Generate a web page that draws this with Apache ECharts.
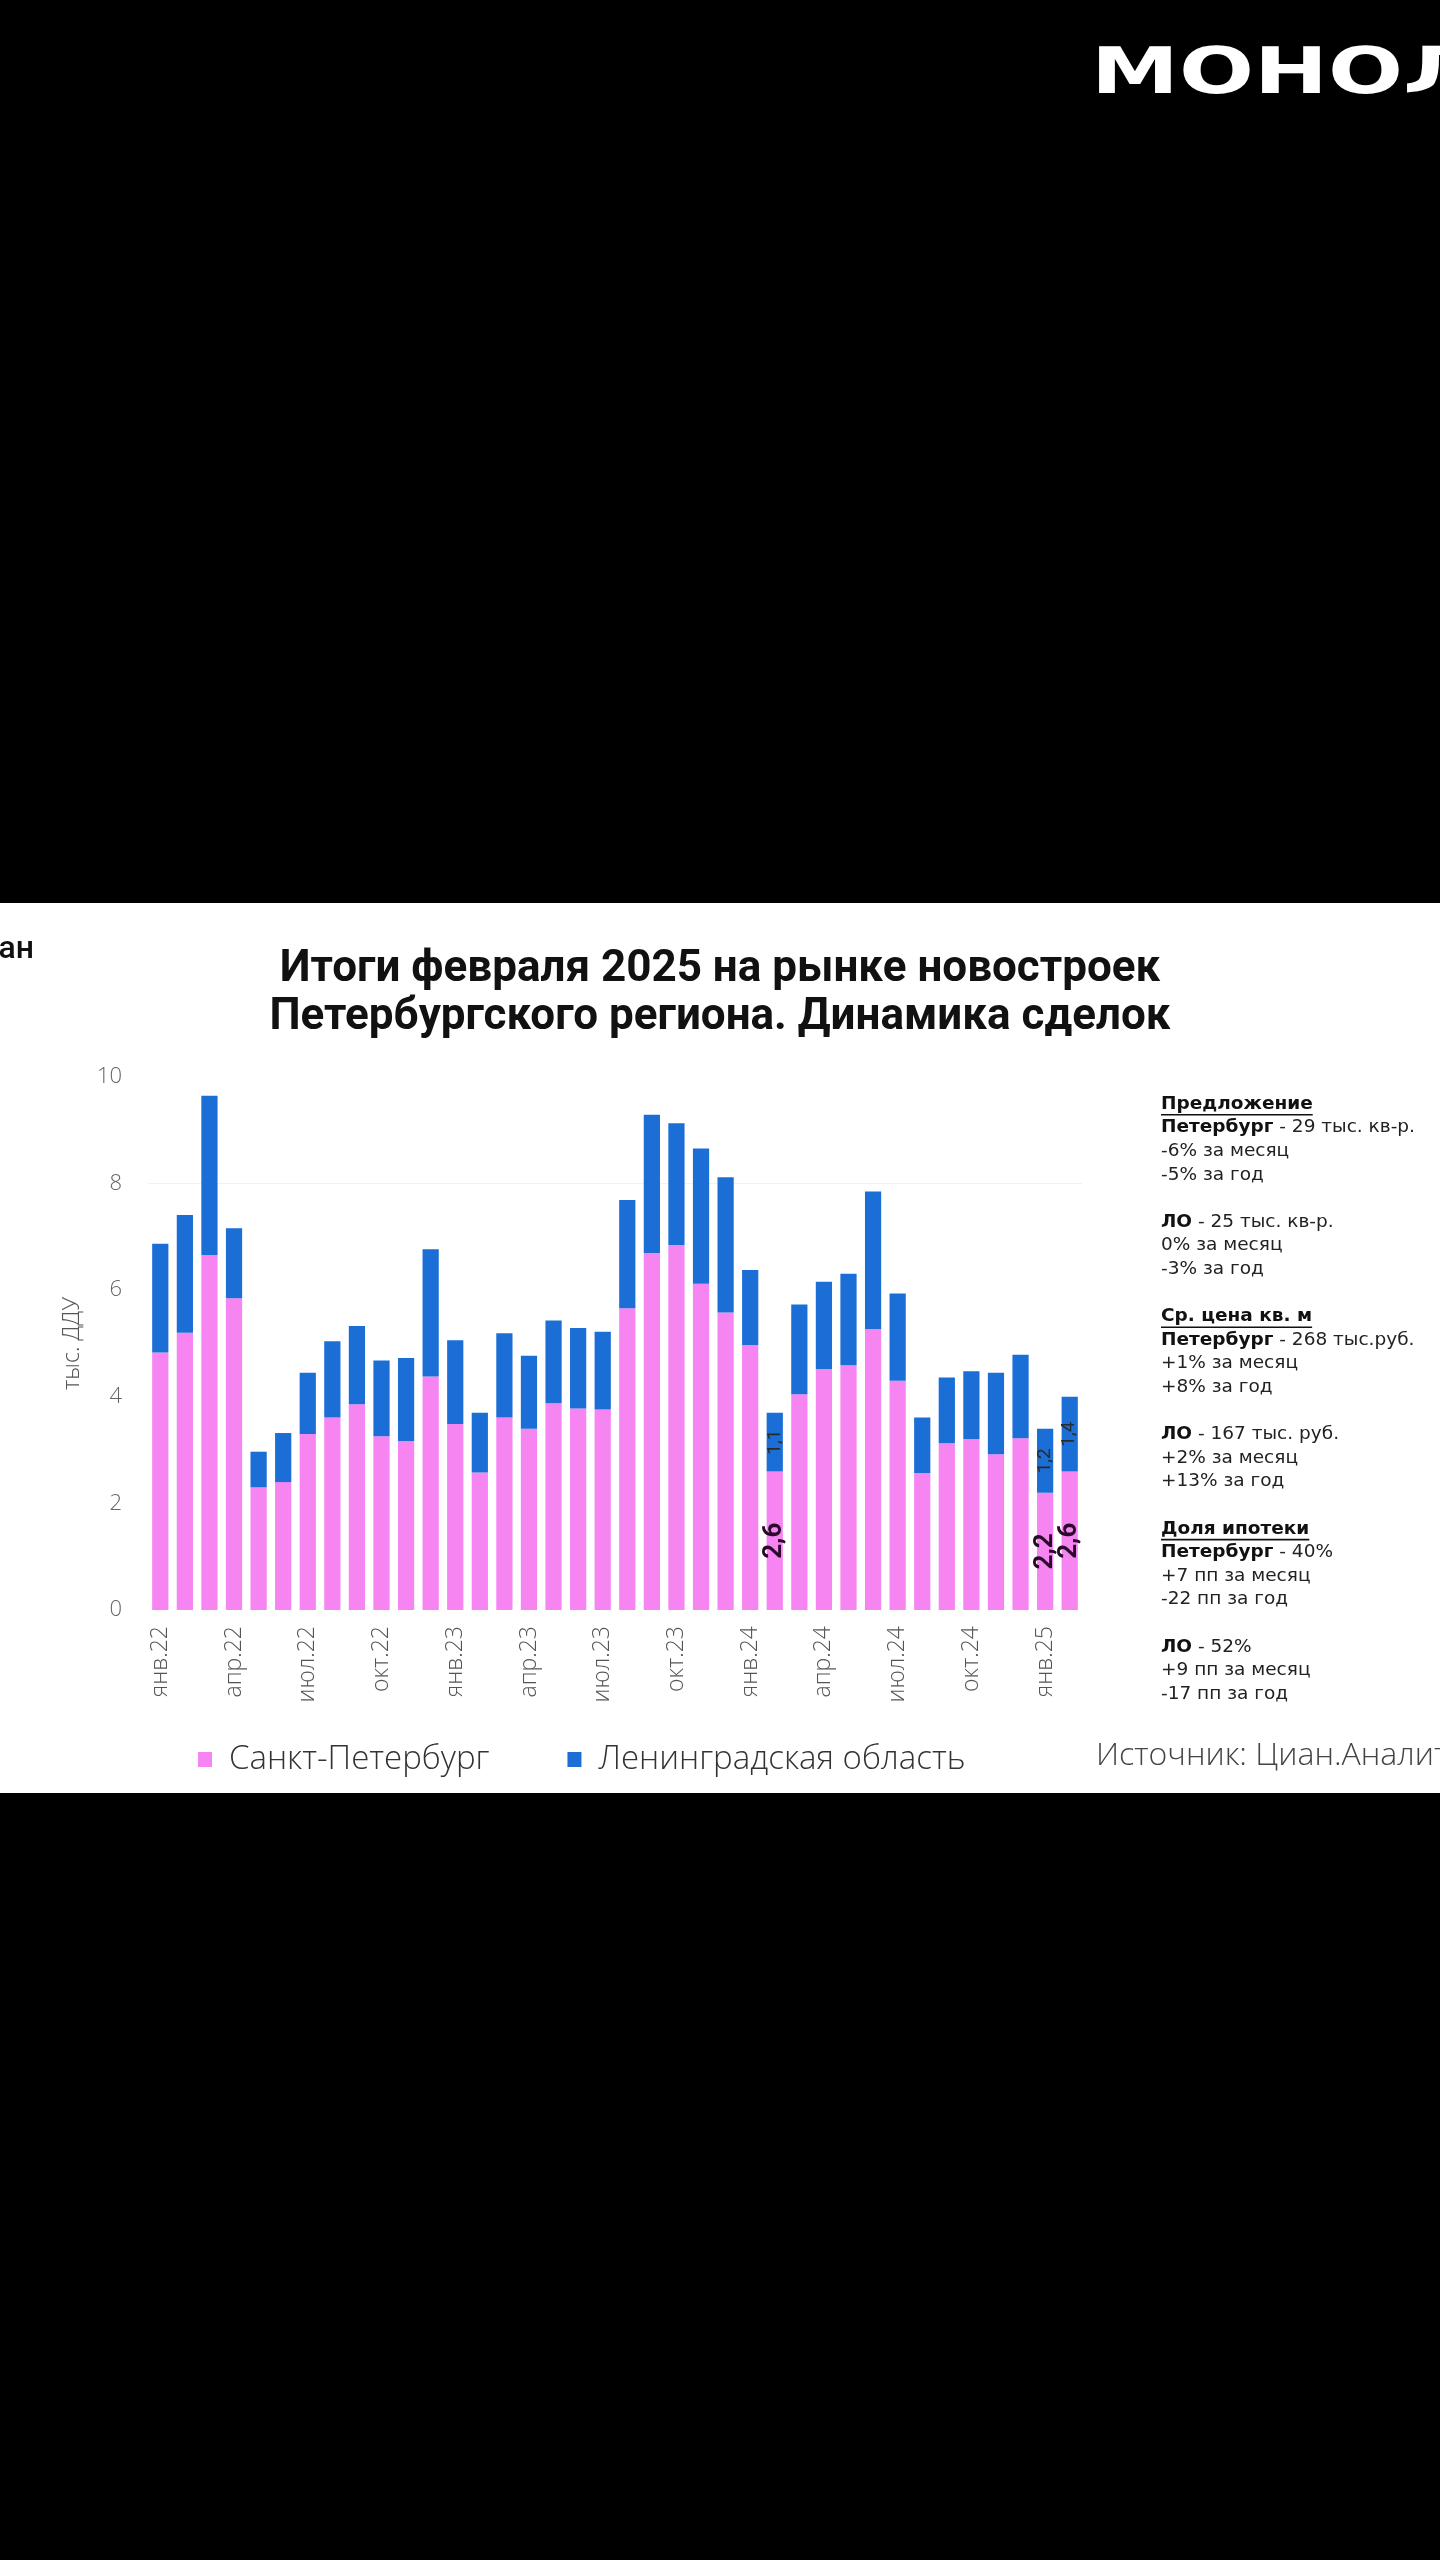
<!DOCTYPE html>
<html>
<head>
<meta charset="utf-8">
<script src="https://cdn.jsdelivr.net/npm/echarts@6/dist/echarts.min.js"></script>
<style>
    html, body { margin: 0; padding: 0; background: #000; }
    #chart { width: 1440px; height: 2560px; }
</style>
</head>
<body>
<div id="chart"></div>
<script>
// месяцы янв.22 .. фев.25
var months = [
    'янв.22','фев.22','мар.22','апр.22','май.22','июн.22','июл.22','авг.22','сен.22','окт.22','ноя.22','дек.22',
    'янв.23','фев.23','мар.23','апр.23','май.23','июн.23','июл.23','авг.23','сен.23','окт.23','ноя.23','дек.23',
    'янв.24','фев.24','мар.24','апр.24','май.24','июн.24','июл.24','авг.24','сен.24','окт.24','ноя.24','дек.24',
    'янв.25','фев.25'
];
// тыс. ДДУ, Санкт-Петербург
var spbDeals = [
    4.83, 5.20, 6.66, 5.85, 2.30, 2.40, 3.30, 3.61, 3.86, 3.26, 3.17, 4.38,
    3.49, 2.58, 3.61, 3.40, 3.88, 3.78, 3.76, 5.66, 6.70, 6.85, 6.12, 5.58,
    4.97, 2.6, 4.05, 4.52, 4.59, 5.27, 4.30, 2.57, 3.13, 3.21, 2.92, 3.22,
    2.2, 2.6
];
// тыс. ДДУ, Ленинградская область
var loDeals = [
    2.04, 2.21, 2.99, 1.31, 0.67, 0.92, 1.15, 1.43, 1.47, 1.42, 1.56, 2.39,
    1.57, 1.12, 1.58, 1.37, 1.55, 1.51, 1.46, 2.03, 2.59, 2.28, 2.54, 2.54,
    1.41, 1.1, 1.68, 1.64, 1.72, 2.58, 1.64, 1.04, 1.23, 1.27, 1.53, 1.57,
    1.2, 1.4
];
// столбцы с подписями значений
var labeledIdx = [25, 36, 37];

var seriesNames = ['Санкт-Петербург', 'Ленинградская область'];
var titleLines = ['Итоги февраля 2025 на рынке новостроек', 'Петербургского региона. Динамика сделок'];
var yTicks = [0, 2, 4, 6, 8, 10];
var sourceText = 'Источник: Циан.Аналитика';

// h - заголовок, b - жирное + обычное, n - обычное, [] - пустая строка
var noteLines = [
    ['h', 'Предложение'],
    ['b', 'Петербург', ' - 29 тыс. кв-р.'],
    ['n', '-6% за месяц'],
    ['n', '-5% за год'],
    [],
    ['b', 'ЛО', ' - 25 тыс. кв-р.'],
    ['n', '0% за месяц'],
    ['n', '-3% за год'],
    [],
    ['h', 'Ср. цена кв. м'],
    ['b', 'Петербург', ' - 268 тыс.руб.'],
    ['n', '+1% за месяц'],
    ['n', '+8% за год'],
    [],
    ['b', 'ЛО', ' - 167 тыс. руб.'],
    ['n', '+2% за месяц'],
    ['n', '+13% за год'],
    [],
    ['h', 'Доля ипотеки'],
    ['b', 'Петербург', ' - 40%'],
    ['n', '+7 пп за месяц'],
    ['n', '-22 пп за год'],
    [],
    ['b', 'ЛО', ' - 52%'],
    ['n', '+9 пп за месяц'],
    ['n', '-17 пп за год']
];

var PINK = '#f684f1';
var BLUE = '#1a6ed6';
var noteFont = 'DejaVu Sans';
var noteSize = 18.5;
var noteX = 1161, noteTop = 1104, noteLineH = 23.6;
var lightFont = 'Open Sans';

function measure(text, font) {
    var ctx = document.createElement('canvas').getContext('2d');
    ctx.font = font;
    return ctx.measureText(text).width;
}

function withLabels(arr) {
    return arr.map(function (v, i) {
        if (labeledIdx.indexOf(i) >= 0) return { value: v, label: { show: true } };
        return v;
    });
}

function commaFmt(p) {
    return String(p.value).replace('.', ',');
}

var graphics = [
    { type: 'rect', z: -100, silent: true, shape: { x: 0, y: 903, width: 1440, height: 890 }, style: { fill: '#fff' } },
    { type: 'text', x: 1091, y: 76, scaleX: 1.38, style: { text: 'МОНОЛИТ', fill: '#fff', font: 'bold 64px "DejaVu Sans"', textVerticalAlign: 'middle' } },
    { type: 'text', x: 34, y: 950, style: { text: 'Циан', fill: '#111', font: '500 32px Roboto', textAlign: 'right', textVerticalAlign: 'middle' } },
    { type: 'text', x: 1096, y: 1756, style: { text: sourceText, fill: '#444', font: '300 32px "' + lightFont + '"', textVerticalAlign: 'middle' } }
];

noteLines.forEach(function (ln, k) {
    if (!ln.length) return;
    var y = noteTop + k * noteLineH;
    var kind = ln[0];
    if (kind === 'h') {
        var bf = 'bold ' + noteSize + 'px "' + noteFont + '"';
        graphics.push({ type: 'text', x: noteX, y: y, style: { text: ln[1], fill: '#111', font: bf, textVerticalAlign: 'middle' } });
        graphics.push({ type: 'rect', silent: true, shape: { x: noteX, y: y + 10, width: measure(ln[1], bf), height: 1.6 }, style: { fill: '#111' } });
    } else if (kind === 'b') {
        graphics.push({ type: 'text', x: noteX, y: y, style: {
            text: '{b|' + ln[1] + '}{n|' + ln[2] + '}',
            textVerticalAlign: 'middle',
            rich: {
                b: { fontFamily: noteFont, fontSize: noteSize, fontWeight: 'bold', fill: '#111' },
                n: { fontFamily: noteFont, fontSize: noteSize, fill: '#222' }
            }
        } });
    } else {
        graphics.push({ type: 'text', x: noteX, y: y, style: { text: ln[1], fill: '#222', font: noteSize + 'px "' + noteFont + '"', textVerticalAlign: 'middle' } });
    }
});

var chart = echarts.init(document.getElementById('chart'));
var option = {
    backgroundColor: '#000',
    animation: false,
    title: {
        text: titleLines.join('\n'),
        left: 'center',
        top: 941,
        textStyle: { fontFamily: 'Roboto', fontSize: 44, fontWeight: 'bold', color: '#111', lineHeight: 48 }
    },
    grid: { left: 148, right: 358, top: 1077, height: 533 },
    legend: {
        data: seriesNames,
        left: 193,
        top: 1738,
        icon: 'rect',
        itemWidth: 14,
        itemHeight: 15,
        itemGap: 78,
        textStyle: { fontFamily: lightFont, fontWeight: 300, fontSize: 33, color: '#333', padding: [0, 0, 0, 12] }
    },
    xAxis: {
        type: 'category',
        data: months,
        axisLine: { show: false },
        axisTick: { show: false },
        axisLabel: { interval: 2, rotate: 90, margin: 16, fontFamily: lightFont, fontWeight: 300, fontSize: 23, color: '#555' }
    },
    yAxis: {
        type: 'value',
        min: yTicks[0],
        max: yTicks[yTicks.length - 1],
        interval: 2,
        name: 'тыс. ДДУ',
        nameLocation: 'middle',
        nameGap: 64,
        nameTextStyle: { fontFamily: lightFont, fontWeight: 300, fontSize: 23, color: '#555' },
        axisLine: { show: false },
        axisTick: { show: false },
        axisLabel: { margin: 26, fontFamily: lightFont, fontWeight: 300, fontSize: 22, color: '#666' },
        splitLine: { show: true, lineStyle: { color: ['rgba(0,0,0,0)', 'rgba(0,0,0,0)', 'rgba(0,0,0,0)', 'rgba(0,0,0,0)', '#f1f1f1', 'rgba(0,0,0,0)'] } }
    },
    series: [
        {
            name: seriesNames[0],
            type: 'bar',
            stack: 'deals',
            barWidth: '66%',
            itemStyle: { color: PINK },
            label: { show: false, position: 'inside', rotate: 90, formatter: commaFmt, fontFamily: 'Roboto', fontWeight: 'bold', fontSize: 26, color: '#2a0a2a' },
            data: withLabels(spbDeals)
        },
        {
            name: seriesNames[1],
            type: 'bar',
            stack: 'deals',
            itemStyle: { color: BLUE },
            label: { show: false, position: 'inside', rotate: 90, formatter: commaFmt, fontFamily: 'Roboto', fontSize: 19, color: '#2a2a2a' },
            data: withLabels(loDeals)
        }
    ],
    graphic: graphics
};
chart.setOption(option);
</script>
</body>
</html>
